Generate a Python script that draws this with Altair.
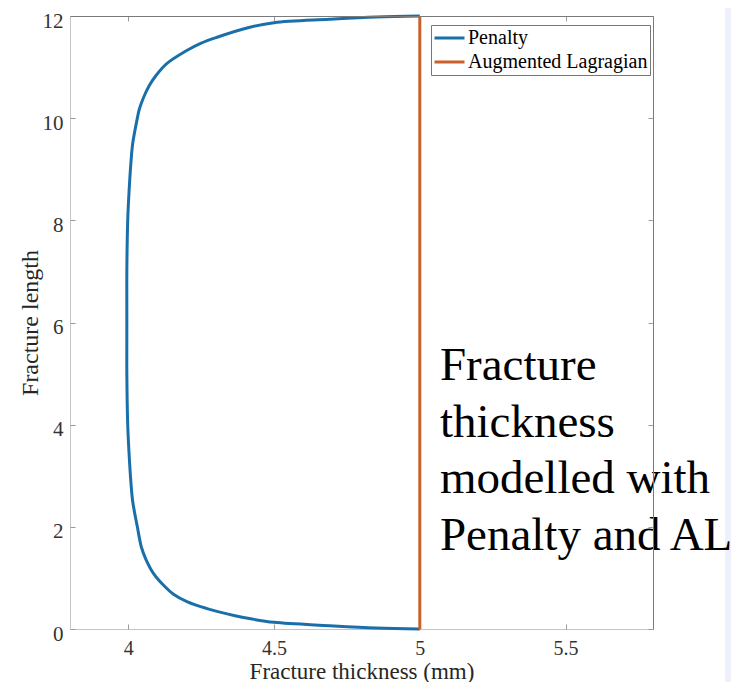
import altair as alt
import pandas as pd

# ---- data ----
series_names = ["Penalty", "Augmented Lagragian"]
series_colors = ["#1A6FAB", "#C8612D"]

penalty_length = [0.0, 0.02, 0.065, 0.13, 0.2, 0.26, 0.4, 0.53, 0.68, 0.85, 1.1, 1.37, 1.6, 2.0,
                  2.5, 2.87, 3.5, 4.0, 5.0, 6.0, 7.0, 8.0, 8.5, 9.13, 9.5, 10.0,
                  10.18, 10.4, 10.64, 10.85, 11.06, 11.32, 11.47, 11.58, 11.78, 11.87, 11.935, 11.98, 12.0]
penalty_thickness = [5.0, 4.85, 4.69, 4.5, 4.42, 4.366, 4.27, 4.203, 4.155, 4.122, 4.085, 4.06, 4.045, 4.031,
                     4.015, 4.009, 4.002, 3.998, 3.995, 3.995, 3.995, 3.998, 4.002, 4.009, 4.015, 4.031,
                     4.038, 4.052, 4.072, 4.097, 4.13, 4.199, 4.25, 4.302, 4.417, 4.5, 4.69, 4.85, 5.0]

al_length = [0.0, 12.0]
al_thickness = [5.0, 5.0]

x_ticks = [4, 4.5, 5, 5.5]
y_ticks = [0, 2, 4, 6, 8, 10, 12]
x_domain = [3.8, 5.8]
y_domain = [0, 12]

annotation_lines = ["Fracture", "thickness", "modelled with", "Penalty and AL"]
annotation_pos = {"thickness": [5.069], "length": [4.874]}

FONT = "Liberation Serif"

rows = []
for i, (t, l) in enumerate(zip(penalty_thickness, penalty_length)):
    rows.append({"series": series_names[0], "thickness": t, "length": l, "i": i})
for i, (t, l) in enumerate(zip(al_thickness, al_length)):
    rows.append({"series": series_names[1], "thickness": t, "length": l, "i": i})
df = pd.DataFrame(rows)

xs = alt.Scale(domain=x_domain, nice=False, zero=False)
ys = alt.Scale(domain=y_domain, nice=False, zero=False)

# decorative right strip (slide background)
strip = alt.Chart(pd.DataFrame({"a": [0]})).mark_rect(color="#EEF0FB").encode(
    x=alt.value(655), x2=alt.value(675), y=alt.value(-9), y2=alt.value(680)
)

lines = alt.Chart(df).mark_line(strokeWidth=3, interpolate="catmull-rom").encode(
    x=alt.X("thickness:Q", scale=xs,
            axis=alt.Axis(orient="bottom", values=x_ticks, format="~g", title="Fracture thickness (mm)",
                          grid=False, ticks=False, tickSize=0, domain=True, domainColor="#c4c4c4",
                          labelFont=FONT, labelFontSize=20, labelColor="#333333", labelPadding=9,
                          labelFlush=False, titleFont=FONT, titleFontSize=23, titleFontWeight="normal",
                          titleColor="#262626", titleBaseline="alphabetic", titleY=49)),
    y=alt.Y("length:Q", scale=ys,
            axis=alt.Axis(orient="left", values=y_ticks, format="d", title="Fracture length",
                          grid=False, ticks=False, tickSize=0, domain=True, domainColor="#c4c4c4",
                          labelFont=FONT, labelFontSize=21, labelColor="#333333", labelPadding=7,
                          labelBaseline="alphabetic", labelOffset=11,
                          labelFlush=False, titleFont=FONT, titleFontSize=24, titleFontWeight="normal",
                          titleColor="#262626", titlePadding=0)),
    color=alt.Color("series:N", scale=alt.Scale(domain=series_names, range=series_colors),
                    legend=alt.Legend(orient="none", legendX=361, legendY=9, title=None,
                                      symbolType="stroke", symbolSize=900, symbolStrokeWidth=3,
                                      labelFont=FONT, labelFontSize=20, labelColor="black",
                                      labelLimit=400,
                                      strokeColor="#777777", fillColor="white", padding=2,
                                      rowPadding=2, labelOffset=2, clipHeight=22)),
    order=alt.Order("i:Q"),
)

ann_df = pd.DataFrame({"thickness": annotation_pos["thickness"],
                       "length": annotation_pos["length"],
                       "label": ["\n".join(annotation_lines)]})
text = alt.Chart(ann_df).mark_text(align="left", baseline="alphabetic", font=FONT, fontSize=47,
                                   lineBreak="\n", lineHeight=56.7, color="black").encode(
    x=alt.X("thickness:Q", scale=xs,
            axis=alt.Axis(orient="top", title=None, labels=False, ticks=False, tickSize=0, grid=False,
                          domain=True, domainColor="#7a7a7a", zindex=1)),
    y=alt.Y("length:Q", scale=ys,
            axis=alt.Axis(orient="right", title=None, labels=False, ticks=False, tickSize=0, grid=False,
                          domain=True, domainColor="#7a7a7a", zindex=1)),
    text="label:N",
)

ticks_bl = alt.Chart(df).mark_point(opacity=0).encode(
    x=alt.X("thickness:Q", scale=xs,
            axis=alt.Axis(orient="bottom", offset=-5, values=x_ticks, title=None, labels=False,
                          domain=False, grid=False, ticks=True, tickSize=5, tickColor="#9a9a9a")),
    y=alt.Y("length:Q", scale=ys,
            axis=alt.Axis(orient="left", offset=-5, values=y_ticks, title=None, labels=False,
                          domain=False, grid=False, ticks=True, tickSize=5, tickColor="#9a9a9a")),
)

ticks_tr = alt.Chart(df).mark_point(opacity=0).encode(
    x=alt.X("thickness:Q", scale=xs,
            axis=alt.Axis(orient="top", offset=-5, values=x_ticks, title=None, labels=False,
                          domain=False, grid=False, ticks=True, tickSize=5, tickColor="#9a9a9a")),
    y=alt.Y("length:Q", scale=ys,
            axis=alt.Axis(orient="right", offset=-5, values=y_ticks, title=None, labels=False,
                          domain=False, grid=False, ticks=True, tickSize=5, tickColor="#9a9a9a")),
)

chart = alt.layer(strip, lines, text, ticks_bl, ticks_tr).resolve_axis(
    x="independent", y="independent"
).properties(
    width=583, height=613,
    autosize=alt.AutoSizeParams(type="none"),
    padding={"left": 62, "top": 8, "right": 78, "bottom": 53},
    background="white",
).configure_view(stroke=None).configure_axis(
    labelFont=FONT, titleFont=FONT
).configure_legend(
    labelFont=FONT
).configure(font=FONT)

chart.save("out.html", embed_options={"renderer": "svg", "actions": False})
